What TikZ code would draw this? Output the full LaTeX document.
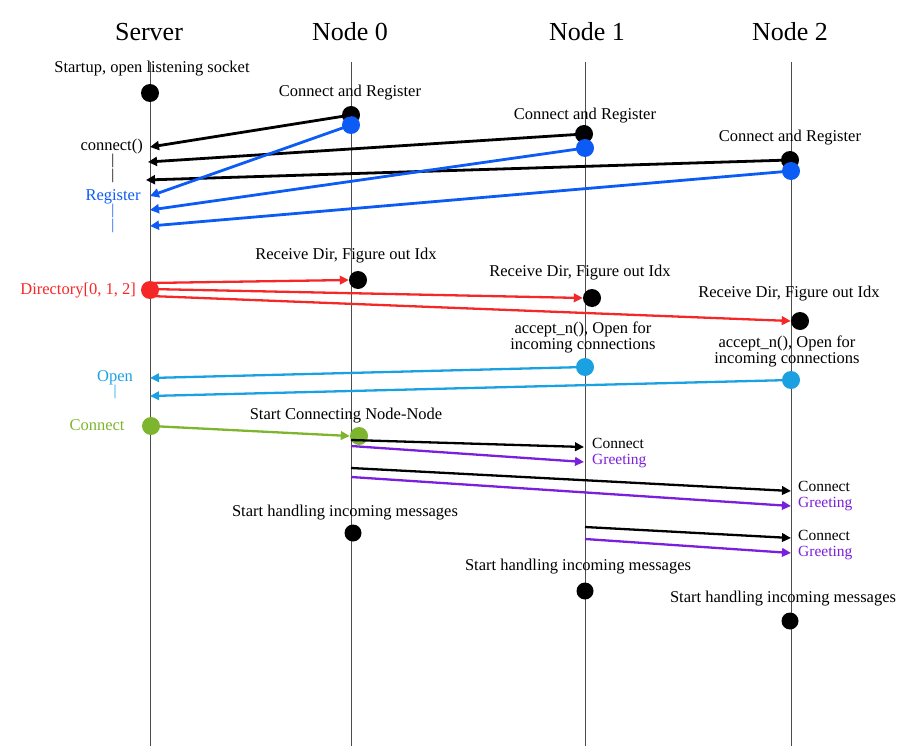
\documentclass[tikz,border=0pt]{standalone}
\usepackage{fontspec}
\setmainfont{Liberation Serif}
\usetikzlibrary{arrows.meta}
\definecolor{cblue}{HTML}{0D5BF5}
\definecolor{cred}{HTML}{F52828}
\definecolor{clblue}{HTML}{1BA1E2}
\definecolor{cgreen}{HTML}{7DB52E}
\definecolor{cpurple}{HTML}{7A1FDB}
\tikzset{
  head/.style={font=\fontsize{26}{28}\selectfont},
  lbl/.style={font=\fontsize{16.5}{16}\selectfont, align=center, inner sep=1pt},
  sml/.style={font=\fontsize{15.5}{15.5}\selectfont, inner sep=0pt, align=left},
  bar/.style={font=\fontsize{15}{15}\selectfont, inner sep=0pt},
  life/.style={draw=black!70, line width=1pt},
  dot/.style={circle, fill=#1, inner sep=0pt, minimum size=18pt},
  msg/.style={draw=#1, line width=2.8pt, -{Triangle[length=9pt,width=9pt]}},
  thin msg/.style={draw=#1, line width=2.3pt, -{Triangle[length=9pt,width=8.5pt]}},
}
\begin{document}
\begin{tikzpicture}[x=1pt,y=-1pt]
\useasboundingbox (0,0) rectangle (904,746);
% headers
\node[head] (hs) at (149,32) {Server};
\node[head] (h0) at (350,32) {Node 0};
\node[head] (h1) at (587,32) {Node 1};
\node[head] (h2) at (790,32) {Node 2};
% lifelines
\coordinate (ts) at (150,62); \coordinate (bs) at (150,746);
\coordinate (t0) at (351,62); \coordinate (b0) at (351,746);
\coordinate (t1) at (585,62); \coordinate (b1) at (585,746);
\coordinate (t2) at (791,62); \coordinate (b2) at (791,746);
\draw[life] (ts) -- (bs);
\draw[life] (t0) -- (b0);
\draw[life] (t1) -- (b1);
\draw[life] (t2) -- (b2);

% --- Startup
\node[lbl] (lstart) at (152,69) {Startup, open listening socket};
\node[dot=black] (sstart) at (150,93) {};

% --- Connect and Register
\node[lbl] (lcr0) at (350,93) {Connect and Register};
\node[lbl] (lcr1) at (585,116) {Connect and Register};
\node[lbl] (lcr2) at (790,138) {Connect and Register};
\node[dot=black] (c0) at (351,115) {};
\node[dot=black] (c1) at (584,134) {};
\node[dot=black] (c2) at (790,160) {};
\node[dot=cblue] (r0) at (351,125) {};
\node[dot=cblue] (r1) at (585,148) {};
\node[dot=cblue] (r2) at (791,171) {};
\coordinate (sc0) at (150,147);
\coordinate (sc1) at (148,162);
\coordinate (sc2) at (146,180);
\coordinate (sr0) at (150,196);
\coordinate (sr1) at (150,210);
\coordinate (sr2) at (150,226);
\draw[msg=black] (c0.center) -- (sc0);
\draw[msg=black] (c1.center) -- (sc1);
\draw[msg=black] (c2.center) -- (sc2);
\draw[msg=cblue] (r0.center) -- (sr0);
\draw[msg=cblue] (r1.center) -- (sr1);
\draw[msg=cblue] (r2.center) -- (sr2);
\node[lbl, anchor=east] (lconn) at (144,147) {connect()};
\node[bar] (bar1) at (113,161) {|};
\node[bar] (bar2) at (113,176) {|};
\node[lbl, text=cblue] (lreg) at (113,197) {Register};
\node[bar, text=cblue] (bar3) at (113,211) {|};
\node[bar, text=cblue] (bar4) at (113,226) {|};

% --- Directory
\node[dot=cred] (dir) at (150,290) {};
\node[lbl, text=cred, anchor=east] (ldir) at (137,291) {Directory[0, 1, 2]};
\node[lbl] (lrd0) at (346,256) {Receive Dir, Figure out Idx};
\node[lbl] (lrd1) at (580,273) {Receive Dir, Figure out Idx};
\node[lbl] (lrd2) at (789,294) {Receive Dir, Figure out Idx};
\node[dot=black] (d0) at (358,280) {};
\node[dot=black] (d1) at (592,298) {};
\node[dot=black] (d2) at (800,321) {};
\coordinate (ds0) at (150,283);
\coordinate (ds1) at (150,289);
\coordinate (ds2) at (150,296);
\draw[thin msg=cred] (ds0) -- (d0.west);
\draw[thin msg=cred] (ds1) -- (d1.west);
\draw[thin msg=cred] (ds2) -- (d2.west);

% --- Open
\node[lbl] (lac1) at (583,337) {accept\_n(), Open for\\incoming connections};
\node[lbl] (lac2) at (787,351) {accept\_n(), Open for\\incoming connections};
\node[dot=clblue] (o1) at (585,367) {};
\node[dot=clblue] (o2) at (791,380) {};
\coordinate (so1) at (150,378);
\coordinate (so2) at (150,396);
\draw[thin msg=clblue] (o1.center) -- (so1);
\draw[thin msg=clblue] (o2.center) -- (so2);
\node[lbl, text=clblue] (lopen) at (115,378) {Open};
\node[bar, text=clblue] (bar5) at (115,392) {|};

% --- Connect green
\node[dot=cgreen] (g) at (151,426) {};
\node[lbl, text=cgreen] (lgc) at (97,425) {Connect};
\node[lbl] (lsc) at (346,416) {Start Connecting Node-Node};
\node[dot=cgreen] (g0) at (359,436) {};
\draw[thin msg=cgreen] (g.center) -- (g0.west);

% --- Node-node connect / greeting
\coordinate (n0a) at (351,440);
\coordinate (n0b) at (351,446);
\coordinate (n0c) at (351,468);
\coordinate (n0d) at (351,477);
\coordinate (n1a) at (585,527);
\coordinate (n1b) at (585,539);
\coordinate (e1a) at (584,447);
\coordinate (e1b) at (584,462);
\coordinate (e2a) at (791,491);
\coordinate (e2b) at (791,506);
\coordinate (e2c) at (791,538);
\coordinate (e2d) at (791,553);
\draw[thin msg=black] (n0a) -- (e1a);
\draw[thin msg=cpurple] (n0b) -- (e1b);
\draw[thin msg=black] (n0c) -- (e2a);
\draw[thin msg=cpurple] (n0d) -- (e2b);
\draw[thin msg=black] (n1a) -- (e2c);
\draw[thin msg=cpurple] (n1b) -- (e2d);
\node[sml, anchor=west] (lkg1) at (592,453) {Connect\\\textcolor{cpurple}{Greeting}};
\node[sml, anchor=west] (lkg2) at (798,496) {Connect\\\textcolor{cpurple}{Greeting}};
\node[sml, anchor=west] (lkg3) at (798,545) {Connect\\\textcolor{cpurple}{Greeting}};

% --- Start handling
\node[lbl] (lh0) at (345,513) {Start handling incoming messages};
\node[lbl] (lh1) at (578,567) {Start handling incoming messages};
\node[lbl] (lh2) at (783,599) {Start handling incoming messages};
\node[dot=black, minimum size=17pt] (h0d) at (353,533) {};
\node[dot=black, minimum size=17pt] (h1d) at (585,591) {};
\node[dot=black, minimum size=17pt] (h2d) at (790,621) {};
\end{tikzpicture}
\end{document}
